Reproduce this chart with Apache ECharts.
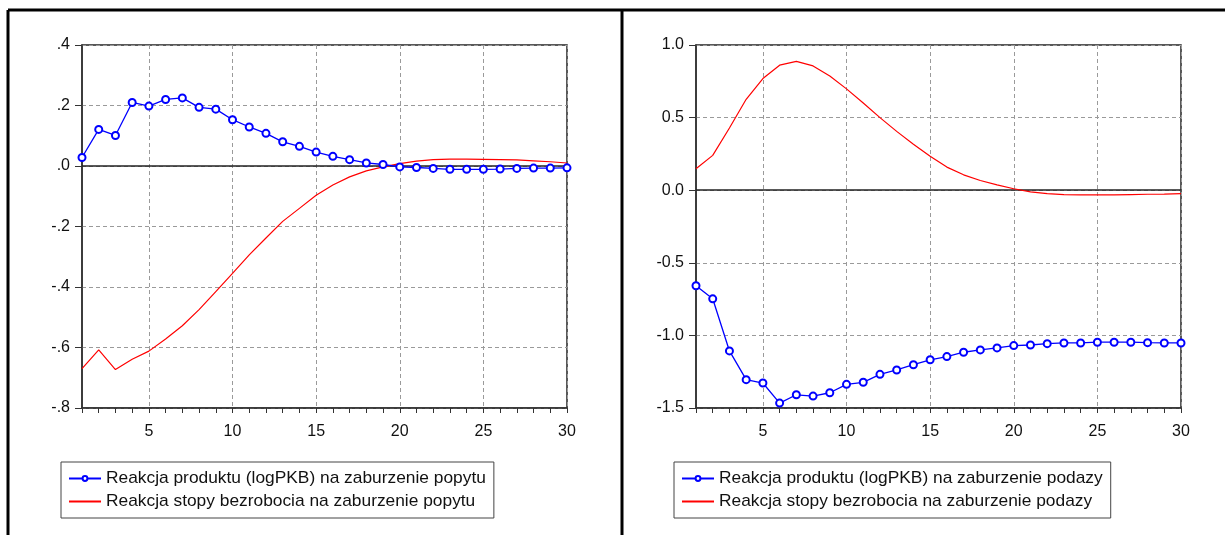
<!DOCTYPE html>
<html>
<head>
<meta charset="utf-8">
<script src="https://cdn.jsdelivr.net/npm/echarts@6/dist/echarts.min.js"></script>
<style>
html,body{margin:0;padding:0;background:#fff;}
#chart{width:1225px;height:535px;}
</style>
</head>
<body>
<div id="chart"></div>
<script>
const periods = ['1','2','3','4','5','6','7','8','9','10','11','12','13','14','15','16','17','18','19','20','21','22','23','24','25','26','27','28','29','30'];

const demandOutput = [0.028,0.121,0.101,0.210,0.198,0.220,0.225,0.194,0.188,0.153,0.129,0.108,0.080,0.065,0.046,0.032,0.021,0.010,0.005,-0.003,-0.005,-0.008,-0.011,-0.011,-0.011,-0.010,-0.008,-0.007,-0.007,-0.006];
const demandUnemp = [-0.670,-0.608,-0.673,-0.639,-0.612,-0.572,-0.528,-0.475,-0.415,-0.355,-0.294,-0.238,-0.183,-0.140,-0.097,-0.063,-0.036,-0.016,-0.003,0.008,0.016,0.021,0.023,0.023,0.022,0.021,0.020,0.017,0.014,0.010];

const supplyOutput = [-0.658,-0.748,-1.107,-1.305,-1.328,-1.466,-1.409,-1.418,-1.395,-1.337,-1.323,-1.268,-1.238,-1.202,-1.168,-1.146,-1.116,-1.100,-1.086,-1.070,-1.066,-1.057,-1.052,-1.052,-1.047,-1.047,-1.047,-1.050,-1.052,-1.052];
const supplyUnemp = [0.148,0.240,0.428,0.626,0.769,0.861,0.887,0.856,0.787,0.698,0.601,0.500,0.405,0.316,0.234,0.159,0.106,0.067,0.037,0.010,-0.011,-0.023,-0.030,-0.032,-0.032,-0.032,-0.030,-0.028,-0.027,-0.024];

const legendDemand = ['Reakcja produktu (logPKB) na zaburzenie popytu','Reakcja stopy bezrobocia na zaburzenie popytu'];
const legendSupply = ['Reakcja produktu (logPKB) na zaburzenie podazy','Reakcja stopy bezrobocia na zaburzenie podazy'];

const leftYTicks = {min:-0.8, max:0.4, interval:0.2};
const rightYTicks = {min:-1.5, max:1.0, interval:0.5};

const FONT = 'Liberation Sans, Arial, sans-serif';
const every5 = (i, v) => (+v) % 5 === 0;

function xAxisCfg(gi){
  return {
    type:'category', gridIndex:gi, data:periods, boundaryGap:false,
    axisLine:{show:true, onZero:false, lineStyle:{color:'#333', width:1.5}},
    axisTick:{show:true, interval:0, length:5, alignWithLabel:true, lineStyle:{color:'#333', width:1}},
    axisLabel:{interval:every5, color:'#111', fontFamily:FONT, fontSize:16, margin:16},
    splitLine:{show:true, interval:every5, lineStyle:{color:'#9a9a9a', type:[4,3], width:1}}
  };
}
function yAxisCfg(gi, t, fmt){
  return {
    type:'value', gridIndex:gi, min:t.min, max:t.max, interval:t.interval,
    axisLine:{show:true, lineStyle:{color:'#333', width:1.5}},
    axisTick:{show:true, length:7, lineStyle:{color:'#333', width:1}},
    axisLabel:{color:'#111', fontFamily:FONT, fontSize:16, margin:12, formatter:fmt},
    splitLine:{show:true, lineStyle:{color:'#9a9a9a', type:[4,3], width:1}}
  };
}
const fmtLeft = v => {
  const n = Math.round(Math.abs(v)*10);
  return (v < -1e-9 ? '-' : '') + '.' + n;
};
const fmtRight = v => (Math.abs(v) < 1e-9 ? 0 : v).toFixed(1);

const zeroLine = {
  silent:true, symbol:'none', z:1,
  label:{show:false},
  lineStyle:{color:'#222', type:'solid', width:1.5},
  data:[{yAxis:0}]
};

function blueSeries(name, gi, data){
  return {
    name, type:'line', xAxisIndex:gi, yAxisIndex:gi, data,
    symbol:'emptyCircle', symbolSize:7, showAllSymbol:true,
    lineStyle:{color:'#0000ff', width:1.3},
    itemStyle:{color:'#0000ff', borderColor:'#0000ff', borderWidth:1.5},
    emphasis:{disabled:true}, animation:false, z:3
  };
}
function redSeries(name, gi, data){
  return {
    name, type:'line', xAxisIndex:gi, yAxisIndex:gi, data,
    symbol:'none', lineStyle:{color:'#ff0000', width:1.2},
    itemStyle:{color:'#ff0000'},
    emphasis:{disabled:true}, animation:false, z:2,
    markLine: zeroLine
  };
}
function legendCfg(left, names){
  return {
    data:[
      {name:names[0]},
      {name:names[1], itemStyle:{opacity:0}, lineStyle:{opacity:1}}
    ],
    orient:'vertical', left:left, top:462,
    padding:[6,8,6,7], itemGap:2, itemWidth:32, itemHeight:6,
    borderColor:'#444', borderWidth:1, backgroundColor:'#fff',
    textStyle:{color:'#111', fontFamily:FONT, fontSize:17.35, lineHeight:21},
    selectedMode:false
  };
}

const chart = echarts.init(document.getElementById('chart'), null, {renderer:'canvas'});
chart.setOption({
  animation:false,
  backgroundColor:'#fff',
  grid:[
    {left:82, top:45, width:485, height:363, show:true, borderColor:'#222', borderWidth:1.5, backgroundColor:'transparent'},
    {left:696, top:45, width:485, height:363, show:true, borderColor:'#222', borderWidth:1.5, backgroundColor:'transparent'}
  ],
  xAxis:[xAxisCfg(0), xAxisCfg(1)],
  yAxis:[yAxisCfg(0, leftYTicks, fmtLeft), yAxisCfg(1, rightYTicks, fmtRight)],
  legend:[legendCfg(61, legendDemand), legendCfg(674, legendSupply)],
  series:[
    blueSeries(legendDemand[0], 0, demandOutput),
    redSeries(legendDemand[1], 0, demandUnemp),
    blueSeries(legendSupply[0], 1, supplyOutput),
    redSeries(legendSupply[1], 1, supplyUnemp)
  ],
  graphic:[
    {type:'line', shape:{x1:8, y1:10, x2:1225, y2:10}, style:{stroke:'#000', lineWidth:3}, silent:true},
    {type:'line', shape:{x1:8, y1:10, x2:8, y2:535}, style:{stroke:'#000', lineWidth:3}, silent:true},
    {type:'line', shape:{x1:622, y1:10, x2:622, y2:535}, style:{stroke:'#000', lineWidth:3}, silent:true}
  ]
});
</script>
</body>
</html>
